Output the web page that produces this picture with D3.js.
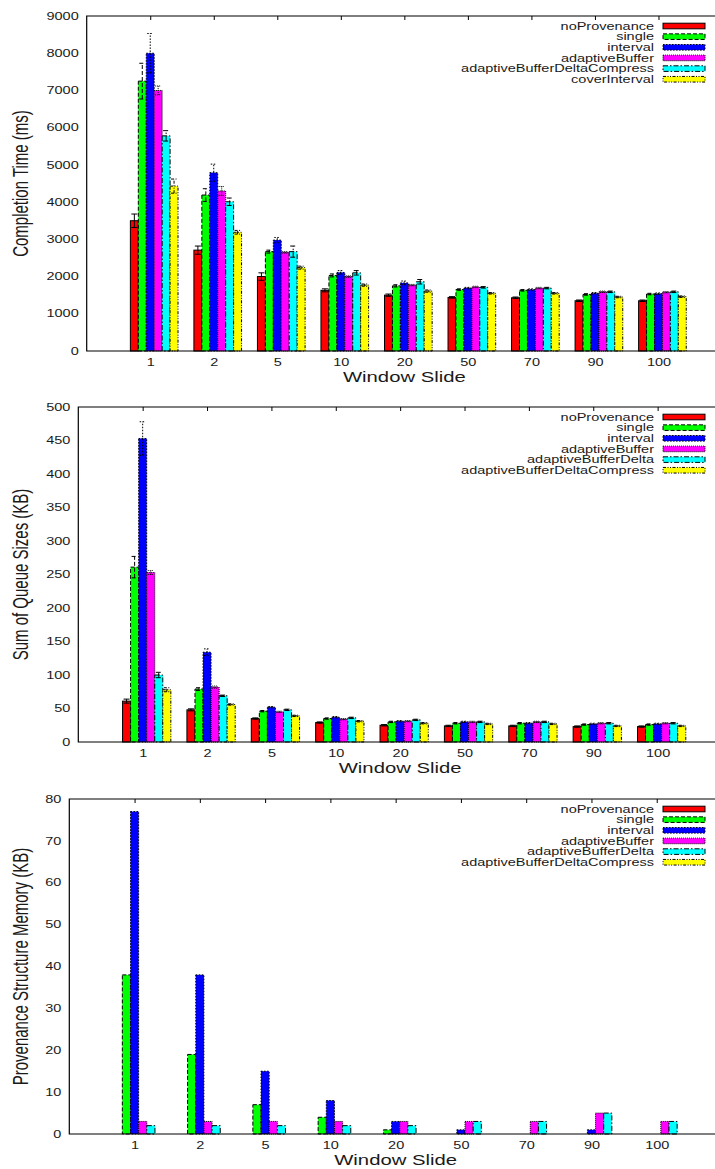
<!DOCTYPE html>
<html>
<head>
<meta charset="utf-8">
<script src="https://cdn.jsdelivr.net/npm/d3@7"></script>
<style>
  html, body { margin: 0; padding: 0; background: #fff; }
  svg { display: block; }
</style>
</head>
<body>
<script>
// Window slide categories (x axis)
const categories = ["1", "2", "5", "10", "20", "50", "70", "90", "100"];

// Panel 1: completion time (ms)
const timeSeries = ["noProvenance", "single", "interval", "adaptiveBuffer", "adaptiveBufferDeltaCompress", "coverInterval"];
const timeNoProvenance = [3500, 2710, 2000, 1630, 1500, 1440, 1430, 1350, 1350];
const timeSingle = [7250, 4190, 2670, 2030, 1750, 1650, 1630, 1520, 1530];
const timeInterval = [8000, 4790, 2980, 2110, 1830, 1690, 1650, 1550, 1540];
const timeAdaptiveBuffer = [7000, 4300, 2650, 2000, 1770, 1720, 1690, 1590, 1580];
const timeAdaptiveBufferDeltaCompress = [5780, 4010, 2670, 2100, 1860, 1710, 1690, 1590, 1590];
const timeCoverInterval = [4430, 3190, 2240, 1770, 1610, 1550, 1550, 1450, 1460];
const timeNoProvenanceErr = [180, 110, 100, 40, 30, 20, 20, 20, 20];
const timeSingleErr = [480, 170, 40, 40, 30, 20, 20, 20, 20];
const timeIntervalErr = [530, 230, 70, 50, 50, 20, 20, 20, 20];
const timeAdaptiveBufferErr = [120, 120, 20, 20, 20, 20, 20, 20, 20];
const timeAdaptiveBufferDeltaCompressErr = [140, 100, 150, 60, 60, 20, 20, 20, 20];
const timeCoverIntervalErr = [190, 50, 40, 30, 30, 20, 20, 20, 20];
const timeTicks = [0, 1000, 2000, 3000, 4000, 5000, 6000, 7000, 8000, 9000];

// Panel 2: sum of queue sizes (KB)
const queueSeries = ["noProvenance", "single", "interval", "adaptiveBuffer", "adaptiveBufferDelta", "adaptiveBufferDeltaCompress"];
const queueNoProvenance = [61, 48, 35, 29, 25, 24, 24, 23, 23];
const queueSingle = [261, 79, 46, 35, 30, 28, 28, 26, 26];
const queueInterval = [453, 134, 52, 37, 31, 30, 28, 27, 27];
const queueAdaptiveBuffer = [253, 82, 45, 34, 31, 30, 30, 28, 28];
const queueAdaptiveBufferDelta = [100, 69, 48, 36, 33, 30, 30, 28, 28];
const queueAdaptiveBufferDeltaCompress = [78, 56, 39, 31, 28, 27, 27, 24, 24];
const queueNoProvenanceErr = [3, 1.5, 1, 1, 1, 1, 1, 1, 1];
const queueSingleErr = [16, 2, 1, 1, 1, 1, 1, 1, 1];
const queueIntervalErr = [25, 5, 1, 1, 1, 1, 1, 1, 1];
const queueAdaptiveBufferErr = [3, 1.5, 1, 1, 1, 1, 1, 1, 1];
const queueAdaptiveBufferDeltaErr = [4, 1, 1, 1, 1, 1, 1, 1, 1];
const queueAdaptiveBufferDeltaCompressErr = [3, 1, 1, 1, 1, 1, 1, 1, 1];
const queueTicks = [0, 50, 100, 150, 200, 250, 300, 350, 400, 450, 500];

// Panel 3: provenance structure memory (KB)
const memSeries = ["noProvenance", "single", "interval", "adaptiveBuffer", "adaptiveBufferDelta", "adaptiveBufferDeltaCompress"];
const memNoProvenance = [0, 0, 0, 0, 0, 0, 0, 0, 0];
const memSingle = [38, 19, 7, 4, 1, 0, 0, 0, 0];
const memInterval = [77, 38, 15, 8, 3, 1, 0, 1, 0];
const memAdaptiveBuffer = [3, 3, 3, 3, 3, 3, 3, 5, 3];
const memAdaptiveBufferDelta = [2, 2, 2, 2, 2, 3, 3, 5, 3];
const memAdaptiveBufferDeltaCompress = [0, 0, 0, 0, 0, 0, 0, 0, 0];
const memTicks = [0, 10, 20, 30, 40, 50, 60, 70, 80];

// Series styles (gnuplot-like fills and outline dash types)
const colors = ["#ff0000", "#00ff00", "#0000ff", "#ff00ff", "#00ffff", "#ffff00"];
const dashes = [null, "4,2", "1.5,1.5", "1,1", "5,2,1.5,2", "3,1.5,1,1.5,1,1.5"];

const W = 715, H = 1169;
const SX = 1.45;            // horizontal stretch applied to all text
const RIGHT = 722;          // plot right edge (runs past the page edge)
const FONT = "'Liberation Sans', Arial, Helvetica, sans-serif";
const INK = "#1a1a1a";

const svg = d3.select("body").append("svg")
  .attr("width", W).attr("height", H)
  .attr("viewBox", `0 0 ${W} ${H}`);
svg.append("rect").attr("width", W).attr("height", H).attr("fill", "#fff");

function stretchedText(parent, x, y, str, size, anchor, rotate) {
  return parent.append("text")
    .attr("transform", `translate(${x},${y}) scale(${SX},1)` + (rotate ? " rotate(-90)" : ""))
    .attr("text-anchor", anchor)
    .attr("font-family", FONT)
    .attr("font-size", size)
    .attr("fill", INK)
    .text(str);
}

function drawPanel(p) {
  const g = svg.append("g");
  const x = d3.scaleLinear().domain([0, 10]).range([p.left, RIGHT]);
  const y = d3.scaleLinear().domain([0, p.ticks[p.ticks.length - 1]]).range([p.bottom, p.top]);
  const u = (x(1) - x(0)) / 8;

  // clustered bars
  p.values.forEach((vals, j) => {
    g.append("g").selectAll("rect").data(vals).join("rect")
      .attr("x", (d, i) => x(i + 1) + (j - 2.5) * u)
      .attr("width", u)
      .attr("y", d => y(d))
      .attr("height", d => y(0) - y(d))
      .attr("fill", colors[j])
      .attr("stroke", "#000")
      .attr("stroke-width", 1)
      .attr("stroke-dasharray", dashes[j]);
  });

  // error bars
  if (p.errors) {
    p.errors.forEach((errs, j) => {
      const eg = g.append("g")
        .attr("stroke", "#000").attr("stroke-width", 1).attr("fill", "none")
        .attr("stroke-dasharray", dashes[j]);
      errs.forEach((e, i) => {
        const v = p.values[j][i];
        const cx = x(i + 1) + (j - 2) * u;
        const y1 = y(v + e), y0 = y(v - e);
        const cw = 3;
        eg.append("path")
          .attr("d", `M${cx},${y0}V${y1}M${cx - cw},${y1}H${cx + cw}M${cx - cw},${y0}H${cx + cw}`);
      });
    });
  }

  // frame: top, left, bottom
  g.append("path")
    .attr("d", `M${RIGHT},${p.top}H${p.left}V${p.bottom}H${RIGHT}`)
    .attr("fill", "none").attr("stroke", "#000").attr("stroke-width", 1.2);

  // y axis tick labels
  const ya = g.append("g").attr("transform", `translate(${p.left},0)`)
    .call(d3.axisLeft(y).tickValues(p.ticks).tickFormat(d3.format("d")).tickSize(0).tickPadding(0));
  ya.select(".domain").remove();
  ya.attr("font-family", FONT).attr("font-size", 10);
  ya.selectAll("text")
    .attr("x", -8 / SX)
    .attr("transform", `scale(${SX},1)`)
    .attr("fill", INK);

  // x axis tick labels
  const xa = g.append("g").attr("transform", `translate(0,${p.bottom})`)
    .call(d3.axisBottom(x).tickValues(d3.range(1, 10)).tickFormat(i => categories[i - 1])
      .tickSize(0).tickPadding(8));
  xa.select(".domain").remove();
  xa.attr("font-family", FONT).attr("font-size", 10);
  xa.selectAll("text").attr("transform", `scale(${SX},1)`).attr("fill", INK);

  // mirrored tick marks along the top border
  const ta = g.append("g").attr("transform", `translate(0,${p.top})`)
    .call(d3.axisTop(x).tickValues(d3.range(1, 10)).tickSize(-4).tickFormat(""));
  ta.select(".domain").remove();
  ta.selectAll("line").attr("stroke", "#000");

  // axis titles
  stretchedText(g, (p.left + RIGHT) / 2, p.bottom + 31, "Window Slide", 14, "middle", false);
  stretchedText(g, 28, (p.top + p.bottom) / 2, p.yLabel, 15, "middle", true);

  // legend
  p.names.forEach((name, j) => {
    const cy = p.top + 10 + j * 10.65;
    stretchedText(g, 654, cy + 3.6, name, 10, "end", false);
    g.append("rect")
      .attr("x", 663).attr("y", cy - 2.8).attr("width", 42).attr("height", 5.6)
      .attr("fill", colors[j]).attr("stroke", "#000").attr("stroke-width", 1)
      .attr("stroke-dasharray", dashes[j]);
  });
}

drawPanel({
  top: 16, bottom: 351, left: 86.7,
  ticks: timeTicks,
  yLabel: "Completion Time (ms)",
  names: timeSeries,
  values: [timeNoProvenance, timeSingle, timeInterval, timeAdaptiveBuffer, timeAdaptiveBufferDeltaCompress, timeCoverInterval],
  errors: [timeNoProvenanceErr, timeSingleErr, timeIntervalErr, timeAdaptiveBufferErr, timeAdaptiveBufferDeltaCompressErr, timeCoverIntervalErr]
});

drawPanel({
  top: 407, bottom: 742, left: 78.3,
  ticks: queueTicks,
  yLabel: "Sum of Queue Sizes (KB)",
  names: queueSeries,
  values: [queueNoProvenance, queueSingle, queueInterval, queueAdaptiveBuffer, queueAdaptiveBufferDelta, queueAdaptiveBufferDeltaCompress],
  errors: [queueNoProvenanceErr, queueSingleErr, queueIntervalErr, queueAdaptiveBufferErr, queueAdaptiveBufferDeltaErr, queueAdaptiveBufferDeltaCompressErr]
});

drawPanel({
  top: 799, bottom: 1134, left: 69.3,
  ticks: memTicks,
  yLabel: "Provenance Structure Memory (KB)",
  names: memSeries,
  values: [memNoProvenance, memSingle, memInterval, memAdaptiveBuffer, memAdaptiveBufferDelta, memAdaptiveBufferDeltaCompress],
  errors: null
});
</script>
</body>
</html>
